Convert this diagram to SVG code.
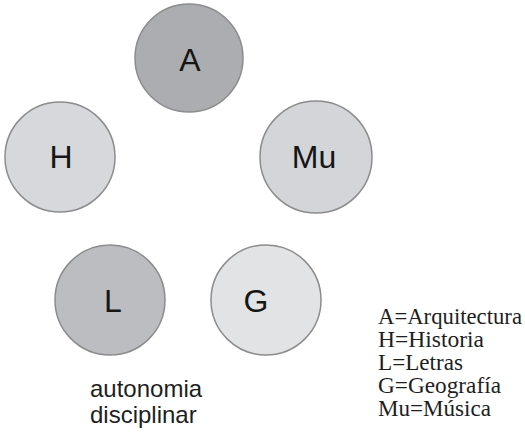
<svg xmlns="http://www.w3.org/2000/svg" width="525" height="435" viewBox="0 0 525 435">
  <style>
    .disc { stroke: #8c8c8c; stroke-width: 1.5; }
    .lbl { font-family: "Liberation Sans", Arial, sans-serif; font-size: 32px; fill: #161616; text-anchor: middle; }
    .caption { font-family: "Liberation Sans", Arial, sans-serif; font-size: 24px; fill: #1e1e1e; }
    .legend { font-family: "Liberation Serif", "Times New Roman", serif; font-size: 23px; fill: #1e1e1e; }
  </style>
  <rect width="525" height="435" fill="#ffffff"/>

  <!-- disciplines -->
  <g id="node-A">
    <circle class="disc" cx="189" cy="58" r="54" fill="#abadb0"/>
    <text class="lbl" x="190" y="71">A</text>
  </g>
  <g id="node-H">
    <circle class="disc" cx="60" cy="157" r="55" fill="#d6d8db"/>
    <text class="lbl" x="61" y="168">H</text>
  </g>
  <g id="node-Mu">
    <circle class="disc" cx="316" cy="157" r="56" fill="#d3d5d8"/>
    <text class="lbl" x="314" y="168">Mu</text>
  </g>
  <g id="node-L">
    <circle class="disc" cx="110" cy="300" r="55" fill="#bbbdc0"/>
    <text class="lbl" x="113" y="312">L</text>
  </g>
  <g id="node-G">
    <circle class="disc" cx="266" cy="300" r="55" fill="#e2e3e5"/>
    <text class="lbl" x="256" y="312">G</text>
  </g>

  <g id="connectors"></g>

  <!-- caption -->
  <text class="caption" x="90" y="397">autonomia</text>
  <text class="caption" x="90" y="423">disciplinar</text>

  <!-- legend -->
  <g id="legend">
    <text class="legend" x="378" y="324" textLength="144" lengthAdjust="spacingAndGlyphs">A=Arquitectura</text>
    <text class="legend" x="378" y="347" textLength="106" lengthAdjust="spacingAndGlyphs">H=Historia</text>
    <text class="legend" x="378" y="370" textLength="85" lengthAdjust="spacingAndGlyphs">L=Letras</text>
    <text class="legend" x="378" y="393" textLength="123" lengthAdjust="spacingAndGlyphs">G=Geografía</text>
    <text class="legend" x="378" y="416" textLength="113" lengthAdjust="spacingAndGlyphs">Mu=Música</text>
  </g>
</svg>
